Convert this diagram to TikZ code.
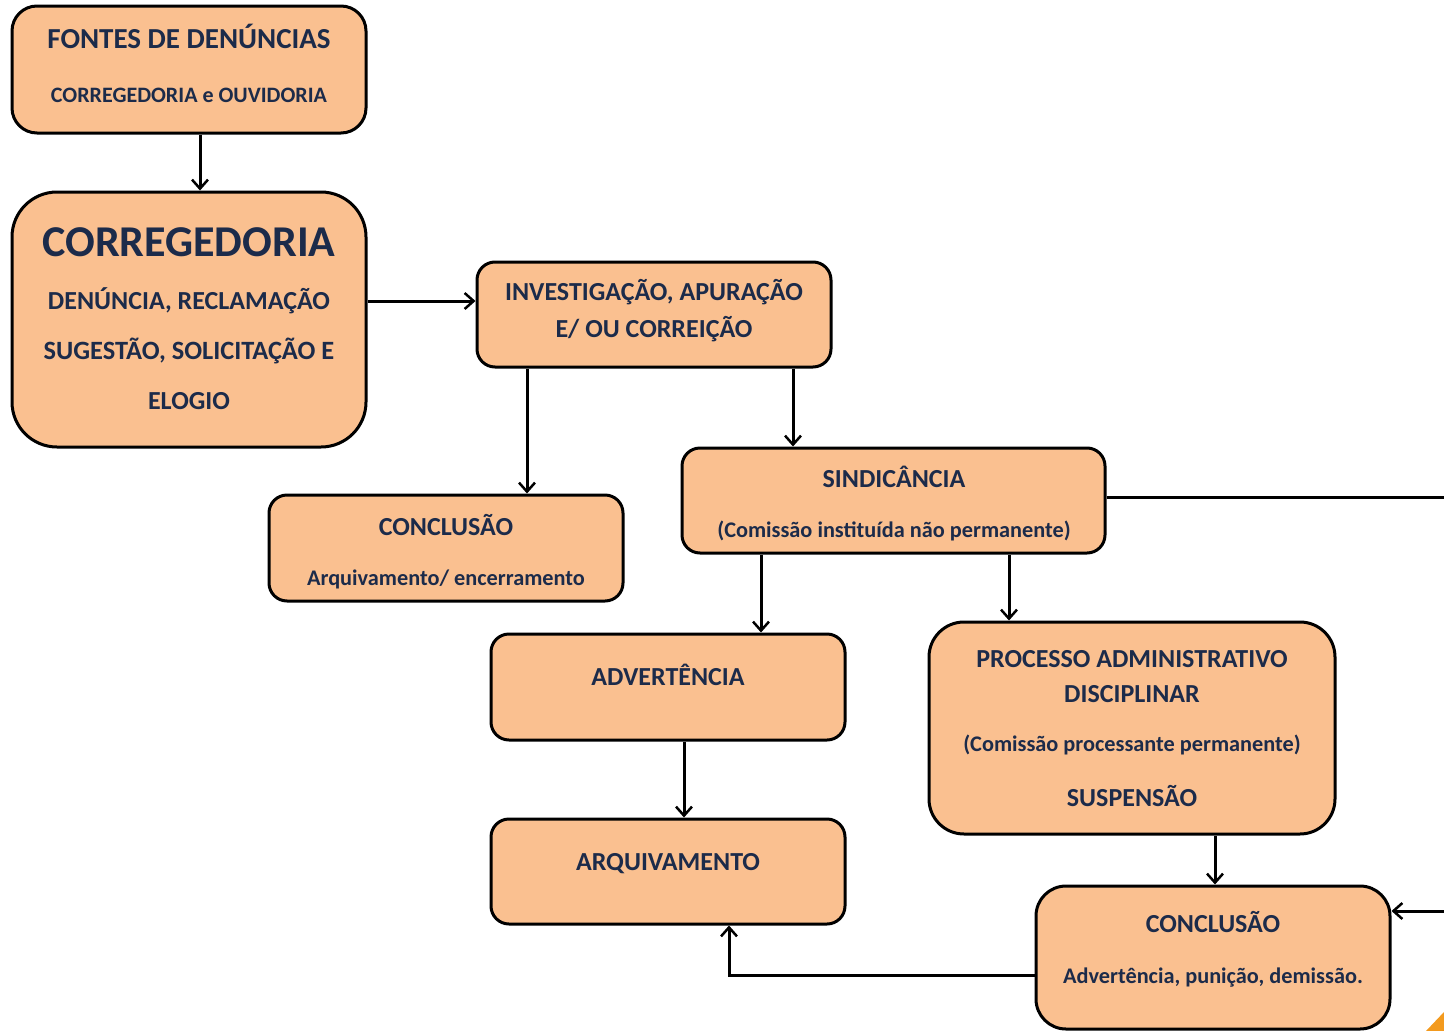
\documentclass[tikz,border=0pt]{standalone}
\usepackage{fontspec}
\setmainfont{Carlito}
\usetikzlibrary{arrows.meta}
\definecolor{boxfill}{HTML}{FAC090}
\definecolor{txt}{HTML}{1C2B4A}
\definecolor{cornerorange}{HTML}{F39A1E}
\newcommand{\fsz}[1]{\fontsize{#1}{#1}\selectfont}
\begin{document}
\begin{tikzpicture}[x=1pt,y=-1pt,
  box/.style={draw=black, line width=3pt, fill=boxfill, inner sep=0pt},
  lbl/.style={text=txt, font=\bfseries, inner sep=0pt, anchor=base},
  arr/.style={draw=black, line width=3pt, -{Straight Barb[length=9pt,width=16pt,line width=2.5pt]}},
  conn/.style={draw=black, line width=3pt}]
\useasboundingbox (0,0) rectangle (1444,1031);
% boxes
\node[box, minimum width=354, minimum height=127, rounded corners=25] (fontes) at (189,69.5) {};
\node[box, minimum width=354, minimum height=255, rounded corners=45] (correg) at (189,319.5) {};
\node[box, minimum width=354, minimum height=105, rounded corners=18] (invest) at (654,314.5) {};
\node[box, minimum width=354, minimum height=106, rounded corners=18] (conclA) at (446,548) {};
\node[box, minimum width=423, minimum height=105, rounded corners=18] (sind) at (893.5,500.5) {};
\node[box, minimum width=354, minimum height=106, rounded corners=18] (adv) at (668,687) {};
\node[box, minimum width=406, minimum height=212, rounded corners=35] (proc) at (1132,728) {};
\node[box, minimum width=354, minimum height=105, rounded corners=18] (arq) at (668,871.5) {};
\node[box, minimum width=354, minimum height=143, rounded corners=30] (conclB) at (1213,957.5) {};
% corner decoration
\fill[cornerorange] (1426,1031) -- (1444,1031) -- (1444,1012) -- cycle;
% labels
\node[lbl, font=\bfseries\fsz{29}] (t1a) at (189,48) {FONTES DE DENÚNCIAS};
\node[lbl, font=\bfseries\fsz{22}] (t1b) at (189,102) {CORREGEDORIA e OUVIDORIA};
\node[lbl, font=\bfseries\fsz{44}] (t2a) at (189,256) {CORREGEDORIA};
\node[lbl, font=\bfseries\fsz{26}] (t2b) at (189,309) {DENÚNCIA, RECLAMAÇÃO};
\node[lbl, font=\bfseries\fsz{26.4}] (t2c) at (189,359) {SUGESTÃO, SOLICITAÇÃO E};
\node[lbl, font=\bfseries\fsz{26}] (t2d) at (189,409) {ELOGIO};
\node[lbl, font=\bfseries\fsz{26}] (t3a) at (654,300) {INVESTIGAÇÃO, APURAÇÃO};
\node[lbl, font=\bfseries\fsz{26}] (t3b) at (654,337) {E/ OU CORREIÇÃO};
\node[lbl, font=\bfseries\fsz{26}] (t4a) at (446,535) {CONCLUSÃO};
\node[lbl, font=\bfseries\fsz{22.3}] (t4b) at (446,585) {Arquivamento/ encerramento};
\node[lbl, font=\bfseries\fsz{26}] (t5a) at (894,487) {SINDICÂNCIA};
\node[lbl, font=\bfseries\fsz{22.3}] (t5b) at (894,537) {(Comissão instituída não permanente)};
\node[lbl, font=\bfseries\fsz{26}] (t6a) at (668,685) {ADVERTÊNCIA};
\node[lbl, font=\bfseries\fsz{26}] (t7a) at (1132,667) {PROCESSO ADMINISTRATIVO};
\node[lbl, font=\bfseries\fsz{26}] (t7b) at (1132,702) {DISCIPLINAR};
\node[lbl, font=\bfseries\fsz{22.3}] (t7c) at (1132,751) {(Comissão processante permanente)};
\node[lbl, font=\bfseries\fsz{26}] (t7d) at (1132,806) {SUSPENSÃO};
\node[lbl, font=\bfseries\fsz{26}] (t8a) at (668,870) {ARQUIVAMENTO};
\node[lbl, font=\bfseries\fsz{26}] (t9a) at (1213,932) {CONCLUSÃO};
\node[lbl, font=\bfseries\fsz{22.3}] (t9b) at (1213,983) {Advertência, punição, demissão.};
% free ends
\coordinate (edgeA) at (1444,497);
\coordinate (edgeB) at (1444,911);
\coordinate (bendC) at (729,975);
% connectors
\draw[arr] ([xshift=11pt]fontes.south) -- ([xshift=11pt]fontes.south |- correg.north);
\draw[arr] ([yshift=18.5pt]correg.east) -- ([yshift=18.5pt]correg.east -| invest.west);
\draw[arr] (invest.south -| 527,0) -- (conclA.north -| 527,0);
\draw[arr] (invest.south -| 793,0) -- (sind.north -| 793,0);
\draw[arr] (sind.south -| 761,0) -- (adv.north -| 761,0);
\draw[arr] (sind.south -| 1009,0) -- (proc.north -| 1009,0);
\draw[conn] (sind.east |- edgeA) -- (edgeA);
\draw[arr] (adv.south -| 684,0) -- (arq.north -| 684,0);
\draw[arr] (proc.south -| 1215,0) -- (conclB.north -| 1215,0);
\draw[arr] (edgeB) -- (edgeB -| conclB.east);
\draw[arr] (conclB.west |- bendC) -- (bendC) -- (bendC |- arq.south);
\end{tikzpicture}
\end{document}
